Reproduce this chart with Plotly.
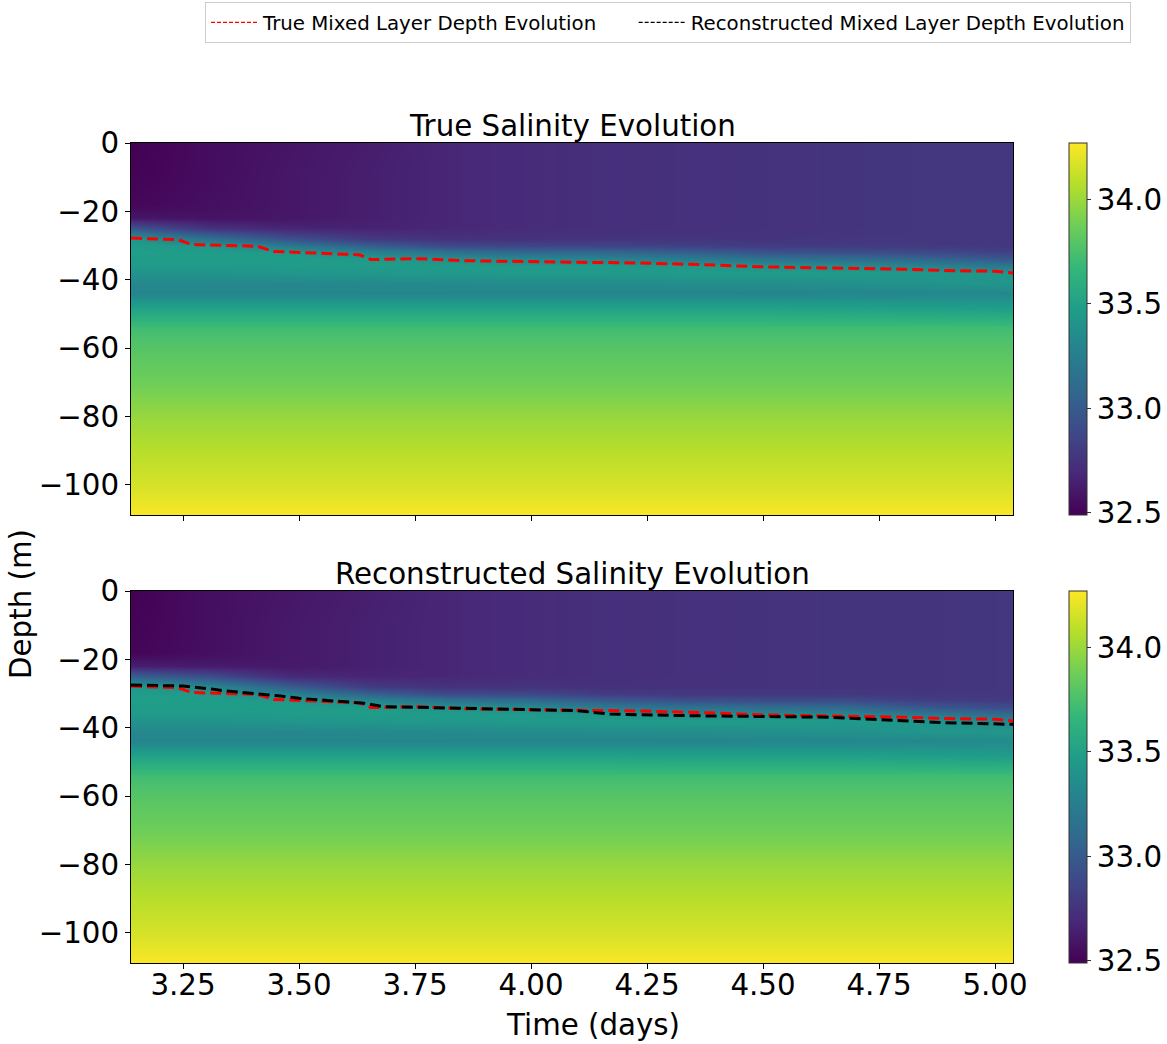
import plotly.graph_objects as go

# ---------------- data ----------------
time_cols = [3.14, 3.31, 3.48, 3.65, 3.82, 3.99, 4.16, 4.33, 4.50, 4.67, 4.84, 5.03]
depth_rows = [0, -10, -18, -22, -25, -28, -30, -32, -34, -36, -38, -41, -44, -48,
              -54, -60, -70, -80, -90, -100, -108.8]

# upper-ocean salinity (rows 0 .. -48 m) for the true field
sal_true_upper = [
    [32.49, 32.55, 32.59, 32.63, 32.68, 32.71, 32.73, 32.74, 32.75, 32.76, 32.77, 32.77],
    [32.50, 32.55, 32.60, 32.64, 32.68, 32.71, 32.73, 32.74, 32.75, 32.76, 32.77, 32.77],
    [32.52, 32.56, 32.60, 32.64, 32.68, 32.71, 32.73, 32.74, 32.75, 32.76, 32.77, 32.77],
    [32.60, 32.58, 32.60, 32.64, 32.68, 32.71, 32.73, 32.74, 32.75, 32.76, 32.77, 32.77],
    [32.95, 32.74, 32.67, 32.66, 32.68, 32.71, 32.73, 32.74, 32.75, 32.76, 32.77, 32.77],
    [33.42, 33.16, 32.94, 32.80, 32.75, 32.75, 32.76, 32.76, 32.76, 32.77, 32.77, 32.77],
    [33.47, 33.43, 33.22, 33.03, 32.90, 32.87, 32.87, 32.84, 32.81, 32.81, 32.80, 32.78],
    [33.48, 33.47, 33.44, 33.29, 33.15, 33.09, 33.08, 33.03, 32.95, 32.92, 32.89, 32.84],
    [33.47, 33.47, 33.47, 33.45, 33.40, 33.33, 33.30, 33.25, 33.17, 33.14, 33.08, 32.98],
    [33.45, 33.45, 33.46, 33.47, 33.46, 33.45, 33.45, 33.44, 33.40, 33.35, 33.30, 33.21],
    [33.40, 33.40, 33.42, 33.43, 33.44, 33.45, 33.45, 33.46, 33.46, 33.46, 33.44, 33.42],
    [33.32, 33.32, 33.32, 33.33, 33.34, 33.35, 33.35, 33.36, 33.37, 33.38, 33.40, 33.42],
    [33.30, 33.30, 33.30, 33.30, 33.30, 33.30, 33.30, 33.30, 33.30, 33.31, 33.31, 33.32],
    [33.50, 33.50, 33.50, 33.50, 33.50, 33.50, 33.50, 33.50, 33.50, 33.49, 33.48, 33.47],
]

# upper-ocean salinity (rows 0 .. -48 m) for the reconstructed field
sal_rec_upper = [
    [32.49, 32.56, 32.60, 32.64, 32.68, 32.71, 32.73, 32.74, 32.75, 32.76, 32.76, 32.77],
    [32.50, 32.56, 32.61, 32.65, 32.68, 32.71, 32.73, 32.74, 32.75, 32.76, 32.76, 32.77],
    [32.51, 32.56, 32.61, 32.65, 32.68, 32.71, 32.73, 32.74, 32.75, 32.76, 32.76, 32.77],
    [32.64, 32.62, 32.61, 32.65, 32.68, 32.71, 32.73, 32.74, 32.75, 32.76, 32.76, 32.77],
    [33.03, 32.90, 32.69, 32.67, 32.68, 32.71, 32.73, 32.74, 32.75, 32.76, 32.76, 32.77],
    [33.44, 33.33, 33.02, 32.81, 32.75, 32.76, 32.74, 32.75, 32.75, 32.76, 32.76, 32.77],
    [33.47, 33.46, 33.28, 33.05, 32.90, 32.89, 32.81, 32.79, 32.79, 32.79, 32.77, 32.77],
    [33.48, 33.47, 33.45, 33.30, 33.15, 33.11, 32.99, 32.92, 32.90, 32.90, 32.83, 32.80],
    [33.47, 33.47, 33.47, 33.45, 33.40, 33.35, 33.21, 33.15, 33.12, 33.10, 32.98, 32.90],
    [33.45, 33.45, 33.46, 33.47, 33.46, 33.45, 33.42, 33.37, 33.34, 33.32, 33.20, 33.10],
    [33.40, 33.40, 33.42, 33.43, 33.44, 33.45, 33.46, 33.46, 33.46, 33.45, 33.42, 33.31],
    [33.32, 33.32, 33.32, 33.33, 33.34, 33.35, 33.36, 33.37, 33.38, 33.39, 33.42, 33.43],
    [33.30, 33.30, 33.30, 33.30, 33.30, 33.30, 33.30, 33.30, 33.31, 33.31, 33.32, 33.34],
    [33.50, 33.50, 33.50, 33.50, 33.50, 33.50, 33.50, 33.49, 33.49, 33.49, 33.48, 33.46],
]

# deep profile (rows -54 .. bottom), horizontally uniform
sal_deep = [33.72, 33.79, 33.87, 33.99, 34.08, 34.16, 34.26]

# mixed layer depth lines
t_true = [3.138, 3.24, 3.27, 3.41, 3.445, 3.63, 3.655, 3.75, 3.85, 4.0, 4.1, 4.2,
          4.38, 4.49, 4.6, 4.71, 4.8, 4.89, 5.0, 5.039]
mld_true = [-27.8, -28.3, -29.7, -30.2, -31.7, -32.7, -34.1, -33.8, -34.4, -34.8, -34.9, -35.0,
            -35.6, -36.2, -36.4, -36.7, -36.9, -37.3, -37.5, -38.0]
t_rec = [3.138, 3.25, 3.315, 3.34, 3.46, 3.5, 3.64, 3.68, 3.78, 3.93, 4.1, 4.17,
         4.35, 4.64, 4.78, 4.89, 5.039]
mld_rec = [-27.5, -27.8, -28.7, -29.2, -30.7, -31.4, -32.8, -33.8, -34.1, -34.5, -35.0, -36.0,
           -36.5, -36.9, -37.7, -38.5, -39.0]

x_tickvals = [3.25, 3.50, 3.75, 4.00, 4.25, 4.50, 4.75, 5.00]
x_ticktext = ["3.25", "3.50", "3.75", "4.00", "4.25", "4.50", "4.75", "5.00"]
y_tickvals = [0, -20, -40, -60, -80, -100]
y_ticktext = ["0", "\u221220", "\u221240", "\u221260", "\u221280", "\u2212100"]
cb_tickvals = [32.5, 33.0, 33.5, 34.0]
cb_ticktext = ["32.5", "33.0", "33.5", "34.0"]

title_top = "True Salinity Evolution"
title_bottom = "Reconstructed Salinity Evolution"
name_true = "True Mixed Layer Depth Evolution"
name_rec = "Reconstructed Mixed Layer Depth Evolution"

# ---------------- figure ----------------
W, H = 1167, 1044
FONT = "DejaVu Sans"
FS = 29.3

z_true = sal_true_upper + [[v] * len(time_cols) for v in sal_deep]
z_rec = sal_rec_upper + [[v] * len(time_cols) for v in sal_deep]

ZMIN, ZMAX = 32.49, 34.27

# plotting area in pixels (union of both panels)
PL, PR, PT, PB = 131, 1013, 143, 963
top_t, top_b = 143, 515
bot_t, bot_b = 591, 963
PW, PH = PR - PL, PB - PT


def px2x(p):
    return (p - PL) / PW


def px2y(p):
    return (PB - p) / PH


def cbar(y_top, y_bot):
    return dict(
        x=px2x(1069), xanchor="left", xpad=0,
        y=px2y((y_top + y_bot) / 2), yanchor="middle", ypad=0,
        len=y_bot - y_top, lenmode="pixels",
        thickness=18, thicknessmode="pixels",
        outlinewidth=1, outlinecolor="#333333",
        tickmode="array", tickvals=cb_tickvals, ticktext=cb_ticktext,
        ticks="outside", ticklen=4, tickwidth=1, tickcolor="#333333",
        tickfont=dict(size=FS, family=FONT, color="black"),
    )


fig = go.Figure()

fig.add_trace(go.Heatmap(
    x=time_cols, y=depth_rows, z=z_true, colorscale="Viridis", zmin=ZMIN, zmax=ZMAX,
    zsmooth="best", colorbar=cbar(top_t, top_b), xaxis="x", yaxis="y", hoverinfo="skip"))
fig.add_trace(go.Heatmap(
    x=time_cols, y=depth_rows, z=z_rec, colorscale="Viridis", zmin=ZMIN, zmax=ZMAX,
    zsmooth="best", colorbar=cbar(bot_t, bot_b), xaxis="x2", yaxis="y2", hoverinfo="skip"))

line_true = dict(color="red", width=3, dash="11px,5px")
line_rec = dict(color="black", width=3, dash="11px,5px")

fig.add_trace(go.Scatter(x=t_true, y=mld_true, mode="lines", line=line_true,
                         showlegend=False, xaxis="x", yaxis="y"))
fig.add_trace(go.Scatter(x=t_true, y=mld_true, mode="lines", line=line_true,
                         showlegend=False, xaxis="x2", yaxis="y2"))
fig.add_trace(go.Scatter(x=t_rec, y=mld_rec, mode="lines", line=line_rec,
                         showlegend=False, xaxis="x2", yaxis="y2"))

# legend entries (thin dashed samples as in the reference)
GAP = "\u00a0" * 5
fig.add_trace(go.Scatter(x=[None], y=[None], mode="lines", name=name_true + GAP,
                         line=dict(color="red", width=1.3, dash="4px,2px"),
                         xaxis="x", yaxis="y"))
fig.add_trace(go.Scatter(x=[None], y=[None], mode="lines", name=name_rec,
                         line=dict(color="black", width=1.3, dash="4px,2px"),
                         xaxis="x", yaxis="y"))

common_x = dict(range=[3.1379, 5.0388], tickmode="array", tickvals=x_tickvals,
                ticktext=x_ticktext, ticks="outside", ticklen=5, tickwidth=1,
                tickcolor="black", showline=True, linecolor="black", linewidth=1,
                mirror=True, showgrid=False, zeroline=False,
                tickfont=dict(size=FS, family=FONT, color="black"))
common_y = dict(range=[-108.8, 0], tickmode="array", tickvals=y_tickvals,
                ticktext=y_ticktext, ticks="outside", ticklen=5, tickwidth=1,
                tickcolor="black", showline=True, linecolor="black", linewidth=1,
                mirror=True, showgrid=False, zeroline=False,
                tickfont=dict(size=FS, family=FONT, color="black"))

fig.update_layout(
    width=W, height=H,
    margin=dict(l=PL, r=W - PR, t=PT, b=H - PB, pad=0, autoexpand=False),
    paper_bgcolor="white", plot_bgcolor="white",
    font=dict(family=FONT, color="black"),
    xaxis=dict(domain=[0, 1], anchor="y", showticklabels=False, **common_x),
    yaxis=dict(domain=[px2y(top_b), 1], anchor="x", **common_y),
    xaxis2=dict(domain=[0, 1], anchor="y2", matches="x", ticklabelstandoff=-9, **common_x),
    yaxis2=dict(domain=[0, px2y(bot_t)], anchor="x2", **common_y),
    legend=dict(orientation="h", x=px2x(1131), xanchor="right", y=px2y(2), yanchor="top",
                bordercolor="#cccccc", borderwidth=1, bgcolor="white", itemwidth=47,
                font=dict(size=19.8, family=FONT, color="black")),
    annotations=[
        dict(text=title_top, x=px2x(572), y=px2y(126), xref="paper", yref="paper",
             xanchor="center", yanchor="middle", showarrow=False,
             font=dict(size=FS, family=FONT, color="black")),
        dict(text=title_bottom, x=px2x(572), y=px2y(574), xref="paper", yref="paper",
             xanchor="center", yanchor="middle", showarrow=False,
             font=dict(size=FS, family=FONT, color="black")),
        dict(text="Time (days)", x=px2x(593), y=px2y(1025), xref="paper", yref="paper",
             xanchor="center", yanchor="middle", showarrow=False,
             font=dict(size=FS, family=FONT, color="black")),
        dict(text="Depth (m)", x=px2x(21), y=px2y(604), xref="paper", yref="paper",
             xanchor="center", yanchor="middle", showarrow=False, textangle=-90,
             font=dict(size=FS, family=FONT, color="black")),
    ],
)

fig.write_html("out.html")
